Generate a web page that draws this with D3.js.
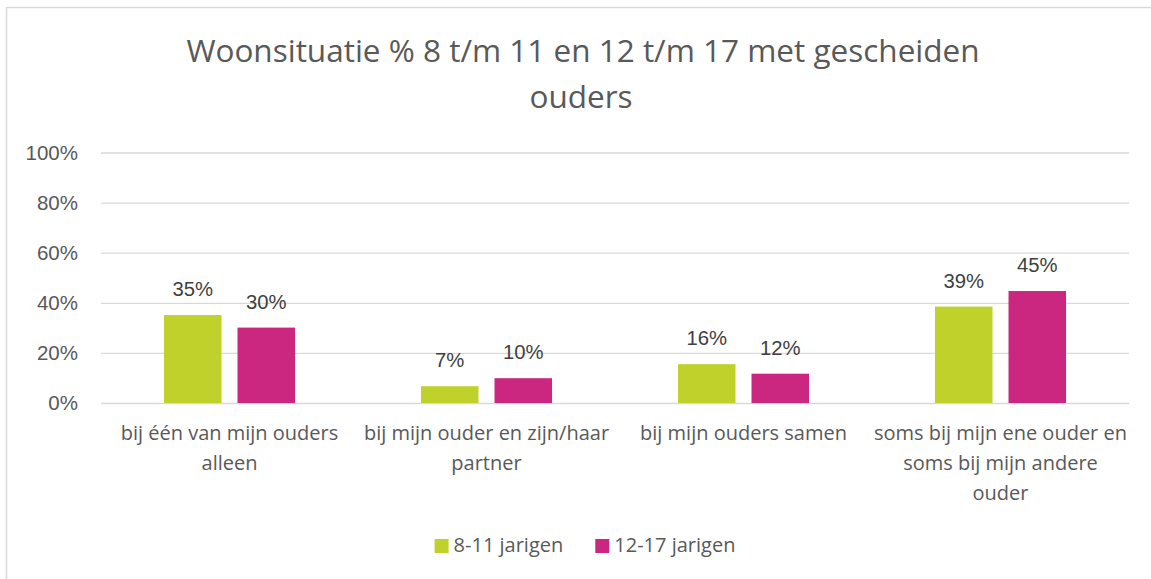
<!DOCTYPE html>
<html>
<head>
<meta charset="utf-8">
<script src="https://cdn.jsdelivr.net/npm/d3@7"></script>
<style>
  body { margin: 0; background: #fff; }
  svg { display: block; }
</style>
</head>
<body>
<div id="chart"></div>
<script>
// data
var categories = ["bij één van mijn ouders\nalleen", "bij mijn ouder en zijn/haar\npartner", "bij mijn ouders samen", "soms bij mijn ene ouder en\nsoms bij mijn andere\nouder"];
var series = ["8-11 jarigen", "12-17 jarigen"];
var values811 = [0.351, 0.067, 0.155, 0.385];
var values1217 = [0.301, 0.099, 0.117, 0.447];
var valueLabels811 = ["35%", "7%", "16%", "39%"];
var valueLabels1217 = ["30%", "10%", "12%", "45%"];
var yTicks = [0, 0.2, 0.4, 0.6, 0.8, 1];
var colors = ["#bfd12a", "#cb2680"];

var W = 1151, H = 579;
var margin = {top: 152.5, right: 22, bottom: 176, left: 101};
var height = H - margin.top - margin.bottom;

var svg = d3.select("#chart").append("svg")
  .attr("width", W)
  .attr("height", H);

// chart border (box runs off right/bottom edge)
svg.append("rect")
  .attr("x", 6.5).attr("y", 7.5)
  .attr("width", W + 20).attr("height", H + 20)
  .attr("fill", "none")
  .attr("stroke", "#d9d9d9")
  .attr("stroke-width", 1.5);

// title
var title = svg.append("text")
  .attr("text-anchor", "middle")
  .attr("fill", "#595959")
  .style("font-family", "'Open Sans', sans-serif")
  .style("font-size", "31.5px");
title.append("tspan").attr("x", 583).attr("y", 62).text("Woonsituatie % 8 t/m 11 en 12 t/m 17 met gescheiden");
title.append("tspan").attr("x", 581).attr("y", 108).text("ouders");

var x = d3.scaleBand()
  .domain(categories)
  .range([margin.left, W - margin.right]);
var x1 = d3.scaleBand()
  .domain(series)
  .range([x.bandwidth() * 0.245, x.bandwidth() * 0.755])
  .paddingInner(0.218);
var y = d3.scaleLinear()
  .domain([0, 1])
  .range([margin.top + height, margin.top]);

// gridlines + y labels
var yAxis = svg.append("g")
  .attr("transform", "translate(" + margin.left + ",0)")
  .call(d3.axisLeft(y)
    .tickValues(yTicks)
    .tickSize(-(W - margin.right - margin.left))
    .tickPadding(23)
    .tickFormat(d3.format(".0%")));
yAxis.select(".domain").remove();
yAxis.selectAll(".tick line").attr("stroke", "#d9d9d9").attr("stroke-width", 1.3);
yAxis.selectAll(".tick text")
  .attr("fill", "#595959")
  .style("font-family", "'Liberation Sans', Arial, sans-serif")
  .style("font-size", "20.5px");

// bars
var rows = categories.map(function(c, i) {
  return [
    {cat: c, s: series[0], v: values811[i], label: valueLabels811[i]},
    {cat: c, s: series[1], v: values1217[i], label: valueLabels1217[i]}
  ];
});

var groups = svg.selectAll(".grp")
  .data(rows)
  .enter().append("g")
  .attr("class", "grp")
  .attr("transform", function(d) { return "translate(" + x(d[0].cat) + ",0)"; });

groups.selectAll("rect")
  .data(function(d) { return d; })
  .enter().append("rect")
  .attr("x", function(d) { return x1(d.s); })
  .attr("width", x1.bandwidth())
  .attr("y", function(d) { return y(d.v); })
  .attr("height", function(d) { return y(0) - y(d.v); })
  .attr("fill", function(d, i) { return colors[i]; });

groups.selectAll(".val")
  .data(function(d) { return d; })
  .enter().append("text")
  .attr("class", "val")
  .attr("text-anchor", "middle")
  .attr("x", function(d) { return x1(d.s) + x1.bandwidth() / 2; })
  .attr("y", function(d) { return y(d.v) - 19; })
  .attr("fill", "#404040")
  .style("font-family", "'Liberation Sans', Arial, sans-serif")
  .style("font-size", "20.3px")
  .text(function(d) { return d.label; });

// category labels
var catText = svg.selectAll(".cat")
  .data(categories)
  .enter().append("text")
  .attr("class", "cat")
  .attr("text-anchor", "middle")
  .attr("fill", "#595959")
  .style("font-family", "'Open Sans', sans-serif")
  .style("font-size", "20px");
catText.each(function(c) {
  var t = d3.select(this);
  c.split("\n").forEach(function(line, j) {
    t.append("tspan")
      .attr("x", x(c) + x.bandwidth() / 2)
      .attr("y", 440 + j * 30)
      .text(line);
  });
});

// legend
var legend = svg.append("g");
var lx = 0;
series.forEach(function(s, i) {
  var g = legend.append("g").attr("transform", "translate(" + lx + ",0)");
  g.append("rect").attr("x", 0).attr("y", 539).attr("width", 14).attr("height", 14).attr("fill", colors[i]);
  var t = g.append("text")
    .attr("x", 19).attr("y", 552)
    .attr("fill", "#595959")
    .style("font-family", "'Open Sans', sans-serif")
    .style("font-size", "20px")
    .text(s);
  lx += 19 + t.node().getComputedTextLength() + 32;
});
var lw = legend.node().getBBox().width;
legend.attr("transform", "translate(" + (585 - lw / 2) + ",0)");
</script>
</body>
</html>
